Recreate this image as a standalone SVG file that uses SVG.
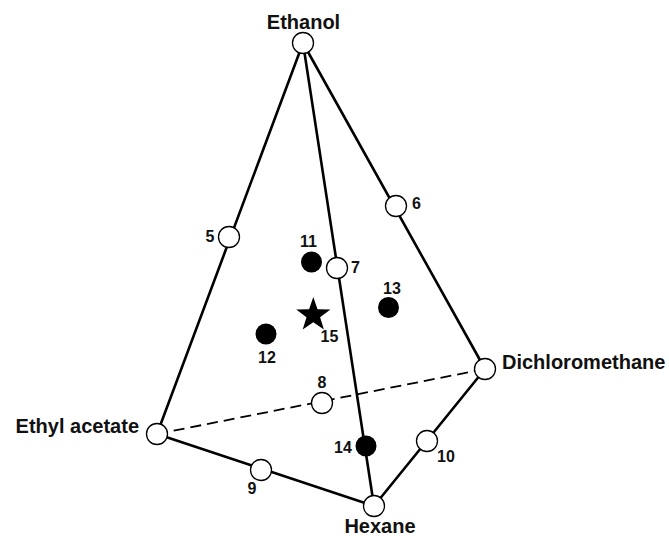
<svg xmlns="http://www.w3.org/2000/svg" width="669" height="536" viewBox="0 0 669 536">
<style>
.edge{stroke:#000;stroke-width:2.6;fill:none;stroke-linecap:round}
.dash{stroke:#000;stroke-width:1.8;fill:none;stroke-dasharray:11 6}
.open{fill:#fff;stroke:#000;stroke-width:1.3}
.fill{fill:#000;stroke:none}
.lbl{font-family:"Liberation Sans",Arial,sans-serif;font-weight:bold;font-size:20px;fill:#111}
.num{font-family:"Liberation Sans",Arial,sans-serif;font-weight:bold;font-size:16px;fill:#111;text-anchor:middle}
</style>
<rect width="669" height="536" fill="#fff"/>
<g id="connectors">
<line class="dash" x1="157" y1="434" x2="485" y2="369"/>
<line class="edge" x1="303" y1="43" x2="157" y2="434"/>
<line class="edge" x1="303" y1="43" x2="485" y2="369"/>
<line class="edge" x1="303" y1="43" x2="374" y2="506"/>
<line class="edge" x1="157" y1="434" x2="374" y2="506"/>
<line class="edge" x1="485" y1="369" x2="374" y2="506"/>
</g>
<g id="ethanol"><circle class="open" cx="303" cy="43" r="10.5"/><text class="lbl" x="303.5" y="29" text-anchor="middle">Ethanol</text></g>
<g id="ethyl-acetate"><circle class="open" cx="157" cy="434" r="10.5"/><text class="lbl" x="139" y="433" text-anchor="end">Ethyl acetate</text></g>
<g id="dichloromethane"><circle class="open" cx="485" cy="369" r="10.5"/><text class="lbl" x="502" y="369">Dichloromethane</text></g>
<g id="hexane"><circle class="open" cx="374" cy="506" r="10.5"/><text class="lbl" x="380" y="533" text-anchor="middle">Hexane</text></g>
<g id="n5"><circle class="open" cx="229" cy="237" r="10.5"/><text class="num" x="210" y="242">5</text></g>
<g id="n6"><circle class="open" cx="396" cy="206" r="10.5"/><text class="num" x="416.5" y="209">6</text></g>
<g id="n7"><circle class="open" cx="337" cy="268" r="10.5"/><text class="num" x="355.5" y="273">7</text></g>
<g id="n8"><circle class="open" cx="322" cy="403" r="10.5"/><text class="num" x="322" y="388">8</text></g>
<g id="n9"><circle class="open" cx="261" cy="470" r="10.5"/><text class="num" x="252" y="494">9</text></g>
<g id="n10"><circle class="open" cx="427" cy="441" r="10.5"/><text class="num" x="446" y="461.5">10</text></g>
<g id="n11"><circle class="fill" cx="311.5" cy="262" r="10.5"/><text class="num" x="308.5" y="246.5">11</text></g>
<g id="n12"><circle class="fill" cx="266" cy="334" r="10.5"/><text class="num" x="267" y="362.5">12</text></g>
<g id="n13"><circle class="fill" cx="388.5" cy="307.5" r="10.5"/><text class="num" x="392" y="294">13</text></g>
<g id="n14"><circle class="fill" cx="366" cy="446" r="10.5"/><text class="num" x="343" y="453">14</text></g>
<g id="n15"><polygon class="fill" points="313.3,297 317.5,309.2 330.4,309.4 320.1,317.2 323.9,329.6 313.3,322.2 302.7,329.6 306.5,317.2 296.2,309.4 309.1,309.2"/><text class="num" x="329.5" y="341.5">15</text></g>
</svg>
